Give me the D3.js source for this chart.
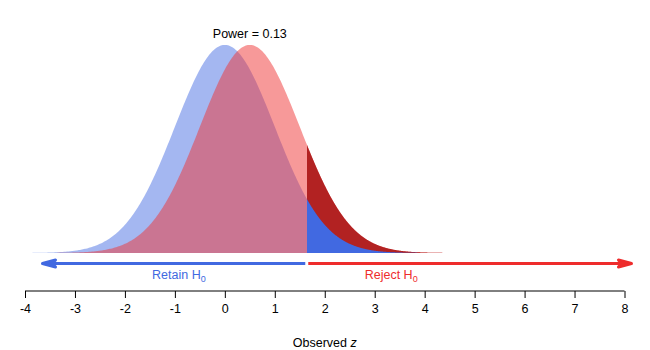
<!DOCTYPE html>
<html><head><meta charset="utf-8">
<script src="https://cdn.jsdelivr.net/npm/d3@7"></script>
<style>body{margin:0;background:#fff}svg{display:block;font-family:"Liberation Sans",Arial,sans-serif}</style>
</head><body><svg id="c" width="650" height="350"></svg>
<script>
// data
const xTicks = [-4,-3,-2,-1,0,1,2,3,4,5,6,7,8];
const nullMean = 0, altMean = 0.5, sd = 1, critical = 1.645;
const power = 0.13;
const halfWidth = 4; // curves drawn mean ± 4 sd
const retainArrow = [1.61, -3.68];
const rejectArrow = [1.67, 8.17];
const retainLabelX = -0.92, rejectLabelX = 3.33;

const svg = d3.select("#c");
const x = d3.scaleLinear().domain([-4, 8]).range([25, 624.5]);
const y = d3.scaleLinear().domain([0, 0.4]).range([253, 44.4]);
const pdf = (v, m) => Math.exp(-0.5 * ((v - m) / sd) ** 2) / (sd * Math.sqrt(2 * Math.PI));
function pts(m, lo, hi) {
  const n = 400, a = [];
  for (let i = 0; i <= n; i++) { const v = lo + (hi - lo) * i / n; a.push([v, pdf(v, m)]); }
  return a;
}
const area = d3.area().x(d => x(d[0])).y0(y(0)).y1(d => y(d[1]));

svg.append("path").attr("d", area(pts(nullMean, nullMean - halfWidth, nullMean + halfWidth))).attr("fill", "rgba(65,105,225,0.48)");
svg.append("path").attr("d", area(pts(altMean, altMean - halfWidth, altMean + halfWidth))).attr("fill", "rgba(240,52,52,0.5)");
svg.append("path").attr("d", area(pts(altMean, critical, altMean + halfWidth))).attr("fill", "#b22222");
svg.append("path").attr("d", area(pts(nullMean, critical, nullMean + halfWidth))).attr("fill", "#4169e1");

// title
svg.append("text").attr("x", x(altMean)).attr("y", 38).attr("text-anchor", "middle")
  .attr("font-size", 12.5).text("Power = " + power.toFixed(2));

// arrows
function arrow(a, b, col) {
  const yy = 263.5;
  const g = svg.append("g").attr("stroke", col).attr("stroke-width", 3).attr("fill", col)
    .attr("stroke-linejoin", "round").attr("stroke-linecap", "butt");
  const dir = Math.sign(b - a), tip = x(b) - dir * 1.5;
  g.append("line").attr("x1", x(a)).attr("x2", tip - dir * 4).attr("y1", yy).attr("y2", yy);
  g.append("path").attr("d", `M${tip - dir * 13},${yy - 3.5}L${tip},${yy}L${tip - dir * 13},${yy + 3.5}L${tip - dir * 9},${yy}Z`);
}
arrow(retainArrow[0], retainArrow[1], "#4169e1");
arrow(rejectArrow[0], rejectArrow[1], "#ee2c2c");

function label(xv, txt, col) {
  const t = svg.append("text").attr("x", x(xv)).attr("y", 279).attr("text-anchor", "middle")
    .attr("font-size", 12.5).attr("fill", col);
  t.append("tspan").text(txt + " H");
  t.append("tspan").attr("dy", 3).attr("font-size", 9).text("0");
}
label(retainLabelX, "Retain", "#4169e1");
label(rejectLabelX, "Reject", "#ee2c2c");

// axis
const ax = svg.append("g").attr("transform", "translate(0,291)")
  .call(d3.axisBottom(x).tickValues(xTicks).tickSize(7).tickPadding(6).tickFormat(d => String(d)));
ax.select(".domain").attr("stroke", "#000").attr("d", `M${x(-4)},0H${x(8)}`);
ax.selectAll(".tick line").attr("stroke", "#000");
ax.selectAll("text").attr("font-size", 12.5).attr("fill", "#000").attr("font-family", "Liberation Sans, Arial, sans-serif");

const xl = svg.append("text").attr("x", x(2)).attr("y", 347).attr("text-anchor", "middle").attr("font-size", 12.5);
xl.append("tspan").text("Observed ");
xl.append("tspan").attr("font-style", "italic").text("z");
</script></body></html>
